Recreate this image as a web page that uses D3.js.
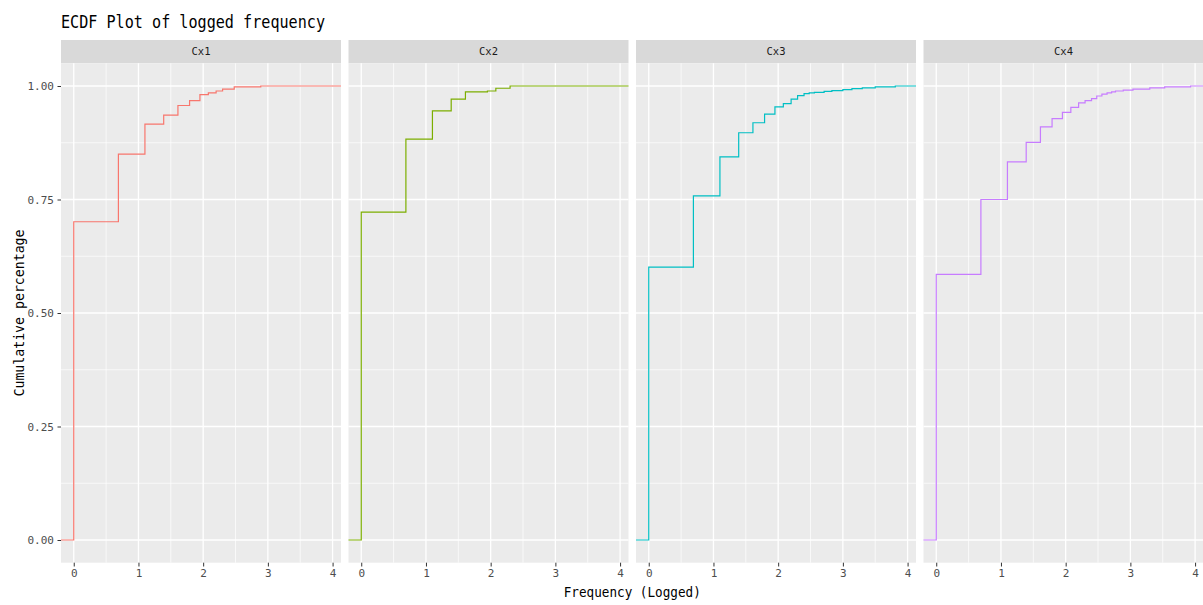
<!DOCTYPE html>
<html>
<head>
<meta charset="utf-8">
<script src="https://cdn.jsdelivr.net/npm/d3@7"></script>
<style>
  body { margin: 0; background: #fff; }
  svg { display: block; }
</style>
</head>
<body>
<svg id="chart" width="1203" height="605"></svg>
<script>
// facet labels and colours
const facets = ["Cx1", "Cx2", "Cx3", "Cx4"];
const colors = ["#F8766D", "#7CAE00", "#00BFC4", "#C77CFF"];

// step positions (logged frequency) and cumulative share
const cx1X = [0, 0.69, 1.10, 1.39, 1.61, 1.79, 1.95, 2.08, 2.20, 2.30, 2.48, 2.89];
const cx1Y = [0.701, 0.850, 0.916, 0.936, 0.957, 0.968, 0.981, 0.985, 0.989, 0.993, 0.998, 1.0];

const cx2X = [0, 0.69, 1.10, 1.39, 1.61, 1.95, 2.08, 2.30];
const cx2Y = [0.722, 0.883, 0.945, 0.971, 0.987, 0.989, 0.995, 1.0];

const cx3X = [0, 0.69, 1.10, 1.39, 1.61, 1.79, 1.95, 2.08, 2.20, 2.30, 2.40, 2.48, 2.56, 2.71, 2.83, 3.00, 3.14, 3.30, 3.50, 3.81];
const cx3Y = [0.601, 0.758, 0.844, 0.897, 0.919, 0.938, 0.954, 0.961, 0.971, 0.979, 0.983, 0.985, 0.986, 0.988, 0.990, 0.992, 0.994, 0.996, 0.998, 1.0];

const cx4X = [0, 0.69, 1.10, 1.39, 1.61, 1.79, 1.95, 2.08, 2.20, 2.30, 2.40, 2.48, 2.56, 2.64, 2.71, 2.77, 2.89, 3.04, 3.30, 3.53, 3.93];
const cx4Y = [0.585, 0.750, 0.833, 0.876, 0.910, 0.928, 0.942, 0.953, 0.963, 0.968, 0.972, 0.978, 0.982, 0.985, 0.987, 0.989, 0.991, 0.993, 0.996, 0.998, 1.0];

const xTicks = [0, 1, 2, 3, 4];
const yTicks = [0, 0.25, 0.5, 0.75, 1];
const xMinor = [0.5, 1.5, 2.5, 3.5];
const yMinor = [0.125, 0.375, 0.625, 0.875];

const series = [[cx1X, cx1Y], [cx2X, cx2Y], [cx3X, cx3Y], [cx4X, cx4Y]];

const svg = d3.select("#chart");
const mono = "'DejaVu Sans Mono', monospace";

const plotLeft = 61, plotRight = 1203.5, gap = 7.5;
const stripTop = 40, stripH = 23.3;
const plotTop = stripTop + stripH, plotBottom = 562.7;
const panelW = (plotRight - plotLeft - gap * 3) / 4;

const x = d3.scaleLinear().domain([-0.197, 4.13]).range([0, panelW]);
const y = d3.scaleLinear().domain([-0.05, 1.05]).range([plotBottom, plotTop]);

// title
svg.append("text")
  .attr("x", plotLeft).attr("y", 28.3)
  .attr("font-family", mono).attr("font-size", 17)
  .attr("textLength", 264).attr("lengthAdjust", "spacingAndGlyphs")
  .attr("fill", "#000")
  .text("ECDF Plot of logged frequency");

const line = d3.line()
  .x((d) => x(d[0]))
  .y((d) => y(d[1]))
  .curve(d3.curveStepAfter);

facets.forEach((name, i) => {
  const g = svg.append("g")
    .attr("transform", `translate(${plotLeft + i * (panelW + gap)},0)`);

  // strip
  g.append("rect")
    .attr("x", 0).attr("y", stripTop)
    .attr("width", panelW).attr("height", stripH)
    .attr("fill", "#D9D9D9");
  g.append("text")
    .attr("x", panelW / 2).attr("y", stripTop + stripH / 2)
    .attr("dy", "0.35em").attr("text-anchor", "middle")
    .attr("font-family", mono).attr("font-size", 10.5)
    .attr("fill", "#1A1A1A")
    .text(name);

  // panel background + grid
  g.append("rect")
    .attr("x", 0).attr("y", plotTop)
    .attr("width", panelW).attr("height", plotBottom - plotTop)
    .attr("fill", "#EBEBEB");

  g.selectAll(".xminor").data(xMinor).join("line")
    .attr("x1", (d) => x(d)).attr("x2", (d) => x(d))
    .attr("y1", plotTop).attr("y2", plotBottom)
    .attr("stroke", "#fff").attr("stroke-width", 0.7);
  g.selectAll(".yminor").data(yMinor).join("line")
    .attr("x1", 0).attr("x2", panelW)
    .attr("y1", (d) => y(d)).attr("y2", (d) => y(d))
    .attr("stroke", "#fff").attr("stroke-width", 0.7);
  g.selectAll(".xmajor").data(xTicks).join("line")
    .attr("x1", (d) => x(d)).attr("x2", (d) => x(d))
    .attr("y1", plotTop).attr("y2", plotBottom)
    .attr("stroke", "#fff").attr("stroke-width", 1.3);
  g.selectAll(".ymajor").data(yTicks).join("line")
    .attr("x1", 0).attr("x2", panelW)
    .attr("y1", (d) => y(d)).attr("y2", (d) => y(d))
    .attr("stroke", "#fff").attr("stroke-width", 1.3);

  // ecdf step line, padded to the panel edges
  const [xs, ys] = series[i];
  const pts = [[x.domain()[0], 0]]
    .concat(xs.map((v, j) => [v, ys[j]]))
    .concat([[x.domain()[1], ys[ys.length - 1]]]);
  g.append("path")
    .datum(pts)
    .attr("fill", "none")
    .attr("stroke", colors[i])
    .attr("stroke-width", 1.2)
    .attr("d", line);

  // x axis
  const xAxis = g.append("g")
    .attr("transform", `translate(0,${plotBottom})`)
    .call(d3.axisBottom(x).tickValues(xTicks).tickSize(3.8).tickPadding(3).tickFormat(d3.format("d")));
  xAxis.select(".domain").remove();
  xAxis.selectAll(".tick line").attr("stroke", "#333333").attr("stroke-width", 1);
  xAxis.selectAll(".tick text")
    .attr("font-family", mono).attr("font-size", 11).attr("fill", "#4D4D4D");

  if (i === 0) {
    const yAxis = g.append("g")
      .call(d3.axisLeft(y).tickValues(yTicks).tickSize(3.5).tickPadding(3.5).tickFormat(d3.format(".2f")));
    yAxis.select(".domain").remove();
    yAxis.selectAll(".tick line").attr("stroke", "#333333").attr("stroke-width", 1);
    yAxis.selectAll(".tick text")
      .attr("font-family", mono).attr("font-size", 11).attr("fill", "#4D4D4D");
  }
});

// axis titles
svg.append("text")
  .attr("x", (plotLeft + plotRight) / 2).attr("y", 597)
  .attr("text-anchor", "middle")
  .attr("font-family", mono).attr("font-size", 13.5)
  .attr("textLength", 137).attr("lengthAdjust", "spacingAndGlyphs")
  .attr("fill", "#000")
  .text("Frequency (Logged)");

svg.append("text")
  .attr("transform", `translate(23.5,${(plotTop + plotBottom) / 2}) rotate(-90)`)
  .attr("text-anchor", "middle")
  .attr("font-family", mono).attr("font-size", 13.5)
  .attr("textLength", 167).attr("lengthAdjust", "spacingAndGlyphs")
  .attr("fill", "#000")
  .text("Cumulative percentage");
</script>
</body>
</html>
